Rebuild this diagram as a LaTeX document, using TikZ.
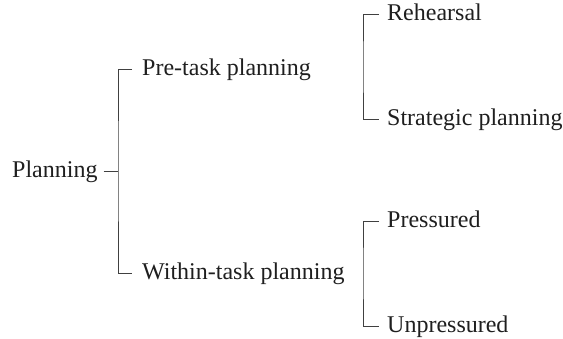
\documentclass[tikz,border=0pt]{standalone}
\usepackage{fontspec}
\setmainfont{Liberation Serif}
\begin{document}
\begin{tikzpicture}[x=1pt,y=-1pt,
  lbl/.style={inner sep=0pt, anchor=base west, font=\fontsize{24}{27}\selectfont, text=black!88},
  conn/.style={draw=black!75, line width=0.9pt}]
\useasboundingbox[fill=white] (0,0) rectangle (563,339);
% labels (baseline = tick level + 7)
\node[lbl] (plan) at (12,178) {Planning};
\node[lbl] (pre) at (142,76) {Pre-task planning};
\node[lbl] (within) at (142,280) {Within-task planning};
\node[lbl] (reh) at (387,21) {Rehearsal};
\node[lbl] (strat) at (387,126) {Strategic planning};
\node[lbl] (press) at (387,228) {Pressured};
\node[lbl] (unpress) at (387,333) {Unpressured};
% junctions
\coordinate (j1) at (118,171);
\coordinate (j2) at (363,67);
\coordinate (j3) at (363,273);
% connectors
\draw[conn] ([shift={(6,-7)}]plan.base east) -- (j1);
\draw[conn] ([shift={(-10,-7)}]pre.base west) -| (j1) |- ([shift={(-10,-7)}]within.base west);
\draw[conn] ([shift={(-8,-7)}]reh.base west) -| (j2) |- ([shift={(-8,-7)}]strat.base west);
\draw[conn] ([shift={(-8,-7)}]press.base west) -| (j3) |- ([shift={(-8,-7)}]unpress.base west);
\end{tikzpicture}
\end{document}
